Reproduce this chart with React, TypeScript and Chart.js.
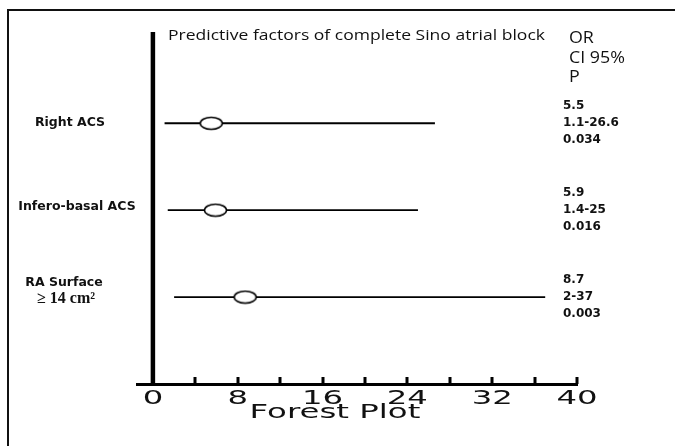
import React, { useEffect, useRef } from 'react';
import { Chart, registerables } from 'chart.js';

Chart.register(...registerables);

// ---- data ----
const categories = ['Right ACS', 'Infero-basal ACS', 'RA Surface'];
const categorySubLabels = ['', '', '\u2265 14 cm\u00B2'];
const oddsRatios = [5.5, 5.9, 8.7];
const ciLower = [1.1, 1.4, 2];
const ciUpper = [26.6, 25, 37];
const orLabels = ['5.5', '5.9', '8.7'];
const ciLabels = ['1.1-26.6', '1.4-25', '2-37'];
const pLabels = ['0.034', '0.016', '0.003'];
const rowPositions = [3, 2, 1];
const xTickValues = [0, 4, 8, 12, 16, 20, 24, 28, 32, 36, 40];
const xLabelValues = [0, 8, 16, 24, 32, 40];
const xLabels = ['0', '8', '16', '24', '32', '40'];
const headerLabels = ['OR', 'CI 95%', 'P'];
const chartTitle = 'Predictive factors of complete Sino atrial block';
const axisTitle = 'Forest Plot';

const X_MIN = -1.5;
const X_MAX = 40;
const Y_MIN = 0;
const Y_MAX = 4.05;

function makeEllipse(): HTMLCanvasElement {
  const c = document.createElement('canvas');
  c.width = 25;
  c.height = 15;
  const g = c.getContext('2d')!;
  g.beginPath();
  g.ellipse(12.5, 7.5, 11, 6, 0, 0, Math.PI * 2);
  g.fillStyle = '#ffffff';
  g.fill();
  g.lineWidth = 1.5;
  g.strokeStyle = '#000000';
  g.stroke();
  return c;
}

function stretchedText(ctx: CanvasRenderingContext2D, text: string, x: number, y: number, sx: number) {
  ctx.save();
  ctx.translate(x, y);
  ctx.scale(sx, 1);
  ctx.fillText(text, 0, 0);
  ctx.restore();
}

const decorPlugin = {
  id: 'decor',
  afterDraw(chart: any) {
    const ctx: CanvasRenderingContext2D = chart.ctx;
    const xs = chart.scales.x;
    const ys = chart.scales.y;
    ctx.save();

    // frame (top and left)
    ctx.strokeStyle = '#111';
    ctx.lineWidth = 2;
    ctx.beginPath();
    ctx.moveTo(8, 446);
    ctx.lineTo(8, 10);
    ctx.lineTo(675, 10);
    ctx.stroke();

    // tick marks (upward)
    const axisY = ys.bottom;
    ctx.fillStyle = '#000';
    xTickValues.forEach((v) => {
      if (v === 0) return;
      const px = xs.getPixelForValue(v);
      ctx.fillRect(Math.round(px) - 1.5, axisY - 7, 3, 7);
    });

    // tick labels (stretched)
    ctx.fillStyle = '#111';
    ctx.textAlign = 'center';
    ctx.textBaseline = 'middle';
    ctx.font = '19px "DejaVu Sans"';
    xLabelValues.forEach((v, i) => {
      stretchedText(ctx, xLabels[i], xs.getPixelForValue(v), axisY + 15, 1.7);
    });

    // axis title
    ctx.font = '20px "DejaVu Sans"';
    stretchedText(ctx, axisTitle, 335, axisY + 29, 1.62);

    // chart title
    ctx.textAlign = 'left';
    ctx.font = '15px "Open Sans"';
    ctx.fillStyle = '#111';
    const tw = ctx.measureText(chartTitle).width;
    stretchedText(ctx, chartTitle, 168, 36, 377 / tw);

    // header
    ctx.font = '15.5px "Open Sans"';
    headerLabels.forEach((h, i) => {
      stretchedText(ctx, h, 569, 39 + i * 19.5, 1.15);
    });

    // left labels
    const leftCenters = [70, 77, 64];
    const leftOffsets = [-1, -3, -14];
    categories.forEach((c, i) => {
      const py = ys.getPixelForValue(rowPositions[i]);
      ctx.textAlign = 'center';
      ctx.font = 'bold 12.5px "DejaVu Sans"';
      ctx.fillText(c, leftCenters[i], py + leftOffsets[i]);
      if (categorySubLabels[i]) {
        ctx.font = 'bold 16px "Liberation Serif"';
        ctx.fillText(categorySubLabels[i], leftCenters[i] + 2, py + leftOffsets[i] + 16);
      }
    });

    // right stats
    ctx.textAlign = 'left';
    ctx.font = 'bold 12px "DejaVu Sans"';
    categories.forEach((_, i) => {
      const py = ys.getPixelForValue(rowPositions[i]);
      ctx.fillText(orLabels[i], 563, py - 17);
      ctx.fillText(ciLabels[i], 563, py);
      ctx.fillText(pLabels[i], 563, py + 17);
    });

    ctx.restore();
  },
};

export default function App() {
  const ref = useRef<HTMLCanvasElement | null>(null);

  useEffect(() => {
    if (!ref.current) return;
    const ellipse = makeEllipse();

    const datasets: any[] = [];
    datasets.push({
      label: 'OR',
      data: categories.map((_, i) => ({ x: oddsRatios[i], y: rowPositions[i] })),
      pointStyle: ellipse,
      pointRadius: 6,
      showLine: false,
      borderColor: '#000',
      backgroundColor: '#fff',
    });
    categories.forEach((c, i) => {
      datasets.push({
        label: c + ' CI',
        data: [
          { x: ciLower[i], y: rowPositions[i] },
          { x: ciUpper[i], y: rowPositions[i] },
        ],
        showLine: true,
        borderColor: '#000',
        borderWidth: 1.8,
        pointRadius: 0,
      });
    });
    datasets.push({
      label: 'null line',
      data: [
        { x: 0, y: Y_MIN },
        { x: 0, y: Y_MAX },
      ],
      showLine: true,
      borderColor: '#000',
      borderWidth: 4.5,
      pointRadius: 0,
      borderCapStyle: 'butt',
    });

    const chart = new Chart(ref.current, {
      type: 'scatter',
      data: { datasets },
      options: {
        animation: false,
        responsive: false,
        devicePixelRatio: 1,
        layout: { padding: { left: 137, right: 98, top: 32, bottom: 62 } },
        plugins: {
          legend: { display: false },
          tooltip: { enabled: false },
          title: { display: false },
        },
        scales: {
          x: {
            type: 'linear',
            min: X_MIN,
            max: X_MAX,
            grid: { display: false, drawTicks: false },
            border: { display: true, color: '#000', width: 3 },
            ticks: { display: false },
            afterBuildTicks: (scale: any) => {
              scale.ticks = xTickValues.map((v) => ({ value: v }));
            },
          },
          y: {
            type: 'linear',
            min: Y_MIN,
            max: Y_MAX,
            display: false,
          },
        },
      },
      plugins: [decorPlugin],
    });
    return () => chart.destroy();
  }, []);

  return (
    <div style={{ position: 'fixed', left: 0, top: 0, width: 675, height: 446, background: '#fff' }}>
      <canvas ref={ref} width={675} height={446} style={{ display: 'block', width: 675, height: 446 }} />
    </div>
  );
}
